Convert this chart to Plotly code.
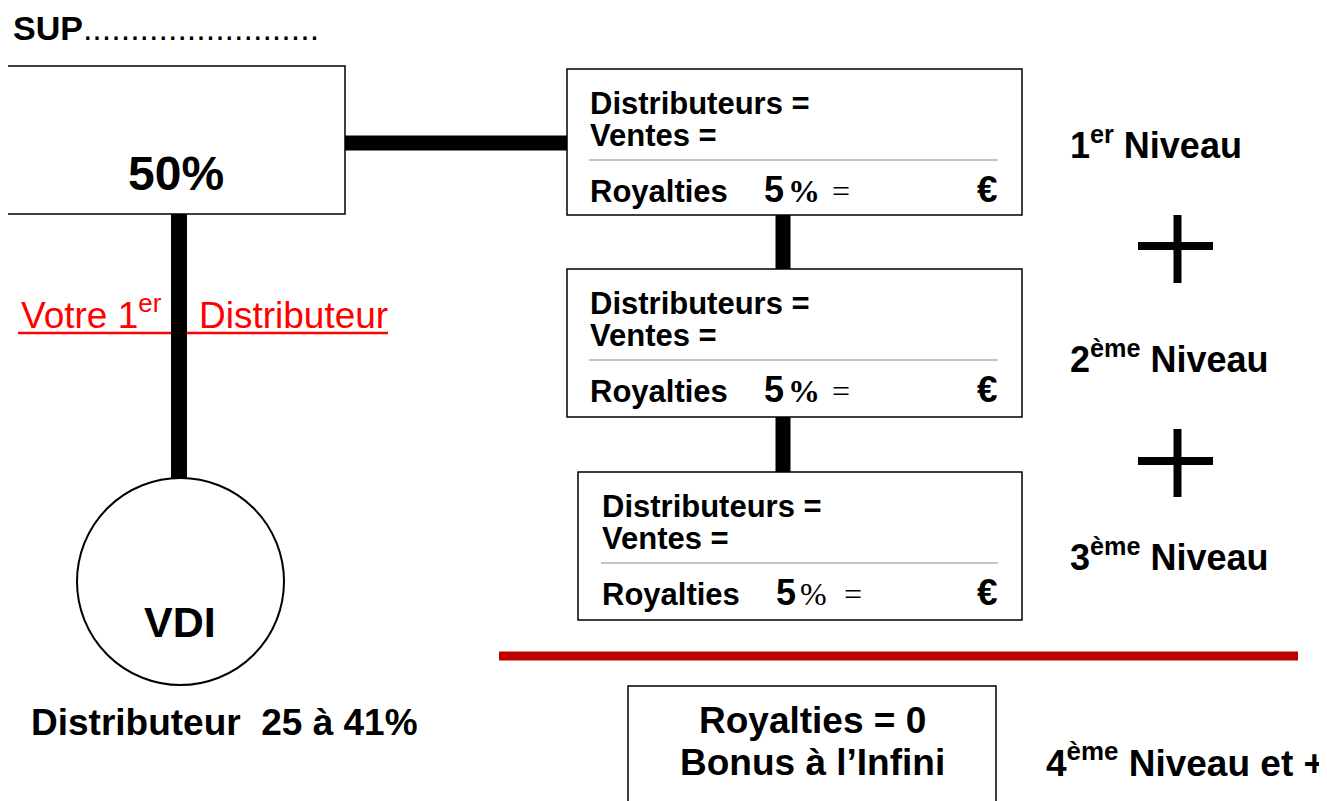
import plotly.graph_objects as go

# ---------------- content ----------------
sup_title = "SUP"
sup_dots = "." * 25
sup_pct = "50%"
first_dist_main = "Votre 1"
first_dist_sup = "er"
first_dist_tail = "Distributeur"
vdi_label = "VDI"
vdi_range = "Distributeur  25 à 41%"
box_fields = ["Distributeurs =", "Ventes =", "Royalties"]
royalty_pcts = [5, 5, 5]
royalty_pct_bold = [True, True, False]
level_nums = ["1", "2", "3"]
level_sups = ["er", "ème", "ème"]
level_word = "Niveau"
bottom_lines = ["Royalties = 0", "Bonus à l’Infini"]
level4 = ("4", "ème", "Niveau et +")
euro = "€"

# ---------------- layout geometry ----------------
W, H = 1327, 801
OFF = 8  # default page body margin
SANS = "Liberation Sans, Arial, sans-serif"
SERIF = "Liberation Serif, Times New Roman, serif"

boxes = [  # x0, y0, x1, y1, text-left
    (567, 69, 1022, 215, 589),
    (567, 269, 1022, 417, 589),
    (578, 472, 1022, 620, 601),
]
level_y = [158, 372, 570]  # baselines of level labels

shapes = []
annotations = []


def rect(x0, y0, x1, y1, width=1.5, color="black"):
    shapes.append(dict(type="rect", xref="x", yref="y", x0=x0, y0=y0, x1=x1, y1=y1,
                       line=dict(color=color, width=width), fillcolor="rgba(0,0,0,0)", layer="above"))


def line(x0, y0, x1, y1, width, color="black"):
    shapes.append(dict(type="line", xref="x", yref="y", x0=x0, y0=y0, x1=x1, y1=y1,
                       line=dict(color=color, width=width), layer="above"))


def txt(x, base, text, size, anchor="left", family=SANS, color="black", sup=False):
    k = 0.3465 + (0.0725 if sup else 0.0)
    annotations.append(dict(x=x, y=base - k * size, xref="x", yref="y", text=text,
                            showarrow=False, xanchor=anchor, yanchor="middle",
                            font=dict(family=family, size=size, color=color),
                            borderpad=0))


# SUP header
txt(12, 40, f"<b>{sup_title}</b>{sup_dots}", 34)

# top-left box with 50%
rect(7, 66, 345, 214)
txt(176, 190, f"<b>{sup_pct}</b>", 48, anchor="center")

# thick connectors
line(345, 143, 567, 143, 15)
line(179, 214, 179, 479, 16)
line(783, 215, 783, 269, 15)
line(783, 417, 783, 472, 15)

# red label with underline
txt(20, 328, f"{first_dist_main}<sup>{first_dist_sup}</sup>", 37, color="#FF0000", sup=True)
txt(198, 328, first_dist_tail, 37, color="#FF0000")
line(18, 333, 388, 333, 2.5, color="#FF0000")
line(179, 290, 179, 345, 16)

# VDI circle
shapes.append(dict(type="circle", xref="x", yref="y", x0=77, y0=478, x1=284, y1=685,
                   line=dict(color="black", width=2), fillcolor="white", layer="above"))
txt(180, 637, f"<b>{vdi_label}</b>", 43, anchor="center")
txt(224, 735, f"<b>{vdi_range}</b>", 37, anchor="center")

# level boxes
for i, (x0, y0, x1, y1, L) in enumerate(boxes):
    rect(x0, y0, x1, y1)
    txt(L, y0 + 45, f"<b>{box_fields[0]}</b>", 31)
    txt(L, y0 + 77, f"<b>{box_fields[1]}</b>", 31)
    line(L, y0 + 91, x1 - 24, y0 + 91, 1, color="#8a8a8a")
    rb = y0 + 133
    txt(L, rb, f"<b>{box_fields[2]}</b>", 31)
    txt(L + 174, rb, f"<b>{royalty_pcts[i]}</b>", 36)
    pct = "<b>%</b>" if royalty_pct_bold[i] else "%"
    txt(L + 198, rb, pct, 32, family=SERIF)
    txt(L + 242, rb, "=", 32, family=SERIF)
    txt(x1 - 23, rb, f"<b>{euro}</b>", 37, anchor="right")

# level labels
for i in range(3):
    txt(1069, level_y[i], f"<b>{level_nums[i]}<sup>{level_sups[i]}</sup> {level_word}</b>", 36, sup=True)

# plus signs
for cy, vy0, vy1 in [(246, 215, 283), (461, 429, 497)]:
    line(1138, cy, 1213, cy, 8)
    line(1177.5, vy0, 1177.5, vy1, 8)

# red separator
line(499, 656, 1298, 656, 9, color="#C00000")

# bottom box
rect(628, 686, 996, 830)
txt(812, 733, f"<b>{bottom_lines[0]}</b>", 37, anchor="center")
txt(812, 775, f"<b>{bottom_lines[1]}</b>", 37, anchor="center")
txt(1045, 776, f"<b>{level4[0]}<sup>{level4[1]}</sup> {level4[2]}</b>", 37, sup=True)

fig = go.Figure()
fig.update_layout(
    width=W - OFF, height=H - OFF,
    margin=dict(l=0, r=0, t=0, b=0),
    paper_bgcolor="white", plot_bgcolor="white",
    xaxis=dict(range=[OFF, W], visible=False, fixedrange=True),
    yaxis=dict(range=[H, OFF], visible=False, fixedrange=True),
    shapes=shapes, annotations=annotations, showlegend=False,
)
fig.write_html("out.html")
